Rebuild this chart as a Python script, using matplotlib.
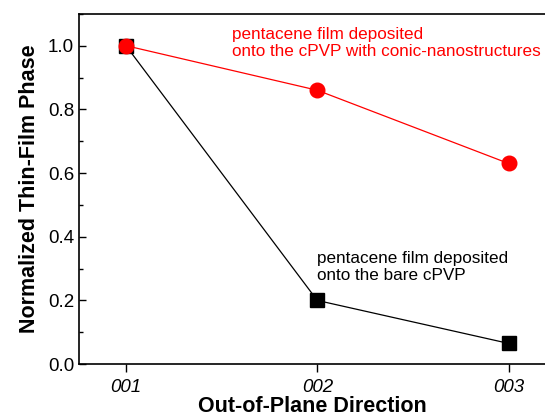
import matplotlib
matplotlib.use("Agg")
import matplotlib.pyplot as plt
from matplotlib.ticker import MultipleLocator

plt.rcParams['font.family'] = ['Liberation Sans', 'DejaVu Sans']

directions = ["001", "002", "003"]
x_pos = [1, 2, 3]
bare_cpvp = [1.0, 0.2, 0.065]
conic_cpvp = [1.0, 0.86, 0.63]

fig = plt.figure(figsize=(5.45, 4.19), dpi=100)
ax = fig.add_axes([0.145, 0.131, 0.855, 0.836])

ax.plot(x_pos, bare_cpvp, color='black', lw=0.9, marker='s', ms=9.5, zorder=3)
ax.plot(x_pos, conic_cpvp, color='red', lw=0.9, marker='o', ms=10.5, zorder=4)

ax.set_xlim(0.755, 3.19)
ax.set_ylim(0, 1.1)
ax.set_xticks(x_pos)
ax.set_xticklabels(directions, fontstyle='italic', fontsize=13.5)
ax.yaxis.set_major_locator(MultipleLocator(0.2))
ax.yaxis.set_minor_locator(MultipleLocator(0.1))
ax.tick_params(axis='y', which='both', direction='in', labelsize=13.5)
ax.tick_params(axis='y', which='major', length=5, width=1)
ax.tick_params(axis='y', which='minor', length=3, width=1)
ax.tick_params(axis='x', direction='out', length=6, width=1, pad=5)
ax.set_yticklabels([f"{v:.1f}" for v in ax.get_yticks()])

ax.spines['right'].set_visible(False)
for s in ['left', 'top', 'bottom']:
    ax.spines[s].set_linewidth(1.2)

ax.set_xlabel("Out-of-Plane Direction", fontsize=15.5, fontweight='bold', labelpad=0)
ax.set_ylabel("Normalized Thin-Film Phase", fontsize=15.5, fontweight='bold', labelpad=6)

ax.text(232, 419 - 27, "pentacene film deposited\nonto the cPVP with conic-nanostructures",
        transform=None, color='red', fontsize=12.3, va='top', ha='left', linespacing=1.15)
ax.text(317, 419 - 251, "pentacene film deposited\nonto the bare cPVP",
        transform=None, color='black', fontsize=12.3, va='top', ha='left', linespacing=1.15)

fig.savefig("out.png", dpi=100)
